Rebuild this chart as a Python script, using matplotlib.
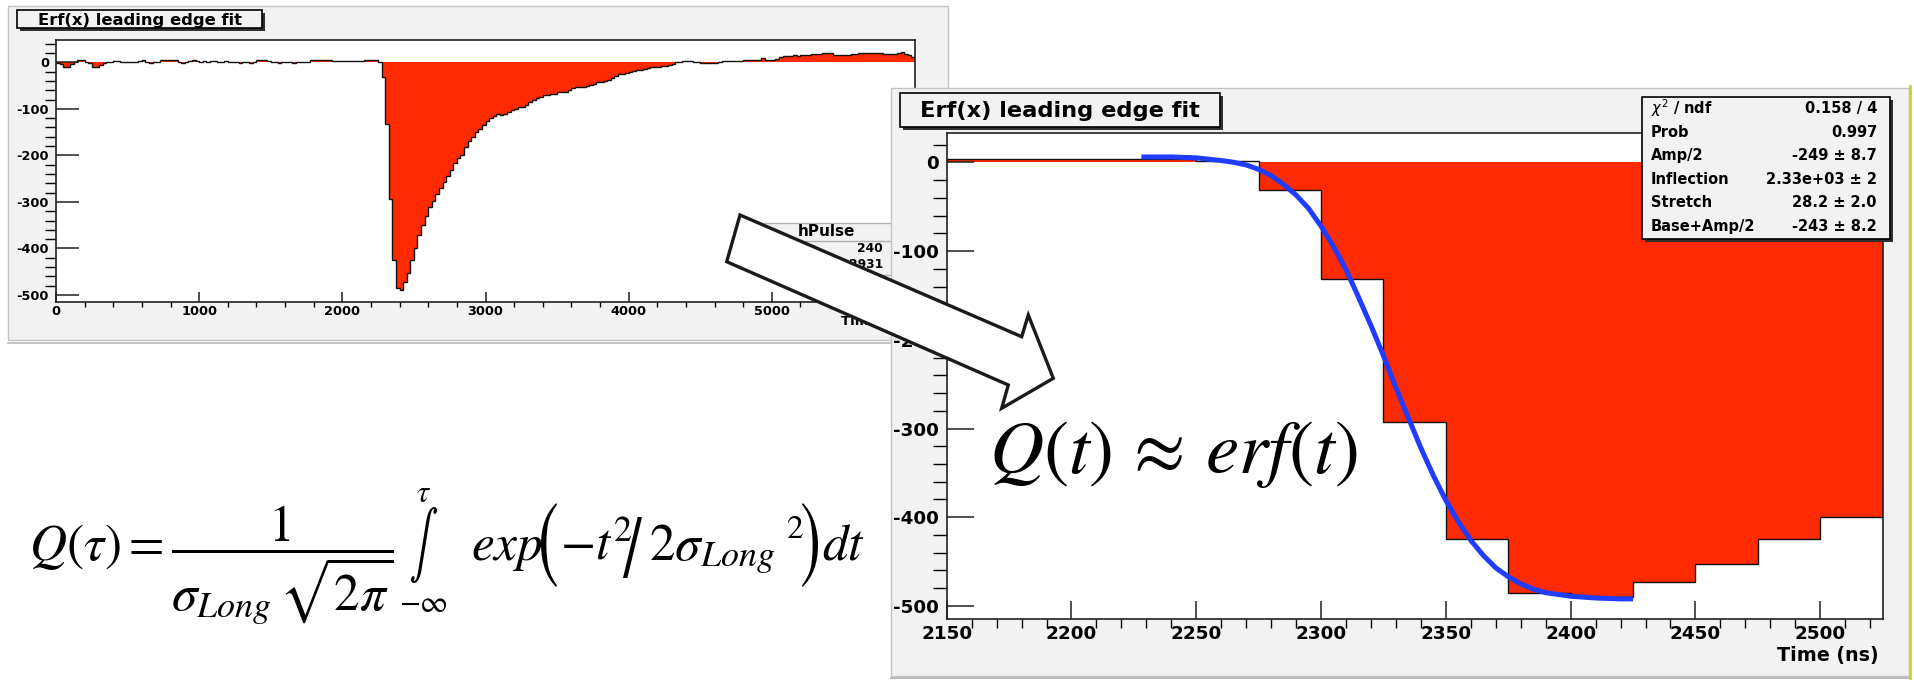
import numpy as np
import matplotlib
matplotlib.use("Agg")
import matplotlib.pyplot as plt
import matplotlib.transforms as mtransforms
from matplotlib.patches import Rectangle, Polygon, PathPatch
from matplotlib.textpath import TextPath
from matplotlib.font_manager import FontProperties
from matplotlib.ticker import MultipleLocator, StrMethodFormatter

plt.rcParams['axes.unicode_minus'] = False
plt.rcParams['font.family'] = 'DejaVu Sans'

W, H = 1914, 683

# --------------------
# hPulse: 240 bins of 25 ns from 0 to 6000 ns
# --------------------
pulse_edges = np.linspace(0, 6000, 241)
pulse_counts = [
    -1, -4, -10, -10, -4, 1, 4, 4, 1, -1,
    -10, -10, -5, -1, 1, 1, 3, 3, 0, 0,
    0, 0, 0, 3, 4, 1, -1, 0, 1, 4,
    5, 5, 4, 4, 1, -1, 1, 3, 4, 3,
    1, 2, 1, 3, 3, 0, 1, 2, 1, 1,
    0, -1, 0, 0, -1, 1, 4, 6, 6, 2,
    0, 0, -1, 0, 0, 0, -1, 0, 0, 0,
    1, 4, 4, 4, 4, 4, 4, 3, 3, 3,
    3, 3, 3, 3, 3, 3, 4, 4, 4, 4,
    1, -31, -132, -293, -425, -485, -490, -473, -453, -425,
    -400, -371, -350, -330, -310, -299, -282, -271, -258, -244,
    -231, -217, -206, -199, -181, -170, -161, -149, -144, -135,
    -125, -120, -115, -110, -113, -110, -106, -102, -100, -97,
    -95, -91, -85, -80, -76, -74, -71, -70, -69, -67,
    -64, -64, -63, -60, -55, -52, -52, -54, -50, -49,
    -47, -43, -42, -41, -37, -33, -29, -25, -24, -22,
    -20, -19, -17, -16, -14, -12, -11, -10, -9, -8,
    -7, -5, -4, 0, 1, 3, 3, 2, 1, 0,
    -1, -1, -1, -1, -1, 1, 2, 2, 2, 2,
    2, 2, 4, 4, 4, 4, 5, 9, 5, 6,
    6, 8, 12, 14, 14, 14, 15, 14, 16, 16,
    16, 17, 17, 17, 19, 19, 19, 16, 15, 15,
    16, 16, 17, 18, 19, 19, 19, 19, 19, 19,
    19, 17, 17, 17, 18, 21, 22, 18, 16, 12,
]

# leading edge fit curve
fit_time = [2228, 2240, 2250, 2260, 2265, 2270, 2275, 2280, 2285, 2290,
            2295, 2300, 2305, 2310, 2315, 2320, 2325, 2330, 2335, 2340,
            2345, 2350, 2355, 2360, 2365, 2370, 2375, 2380, 2385, 2390,
            2400, 2410, 2420, 2425]
fit_charge = [6, 6, 5, 2, 0, -3, -8, -15, -25, -37,
              -52, -72, -95, -121, -152, -184, -218, -254, -288, -322,
              -353, -381, -405, -426, -443, -457, -467, -475, -481, -485,
              -489, -491, -492, -492]

fit_names = [r'$\chi^{2}$ / ndf', 'Prob', 'Amp/2', 'Inflection', 'Stretch', 'Base+Amp/2']
fit_values = ['0.158 / 4', '0.997', '-249 ± 8.7', '2.33e+03 ± 2', '28.2 ± 2.0', '-243 ± 8.2']
pulse_names = ['Entries', 'Mean']
pulse_values = ['240', '2931']

RED = '#ff2a00'
BLUE = '#1f3cff'
GRAY = '#f2f2f2'

fig = plt.figure(figsize=(W / 100, H / 100), dpi=100)
fig.patch.set_facecolor('white')
# pixel coords, y going down
T = mtransforms.Affine2D().scale(1 / W, -1 / H).translate(0, 1) + fig.transFigure


def box(x0, y0, x1, y1, z, fc=GRAY, ec='none', lw=1.0):
    r = Rectangle((x0, y0), x1 - x0, y1 - y0, transform=T, fc=fc, ec=ec, lw=lw, zorder=z)
    fig.add_artist(r)
    return r


def hline(x0, x1, y, z, color='#b0b0b0', lw=1.0):
    fig.add_artist(plt.Line2D([x0, x1], [y, y], transform=T, color=color, lw=lw, zorder=z))


def txt(x, y, s, size, z, ha='left', va='center', weight='bold', **kw):
    return fig.text(x, y, s, transform=T, ha=ha, va=va, fontsize=size,
                    fontweight=weight, zorder=z, **kw)


def mtxt(x, y, s, size, ha='left', va='baseline'):
    # formula pieces in a Times-like math font
    return txt(x, y, s, size, 8, ha=ha, va=va, weight='normal', math_fontfamily='stix')


def glyph(s, x0, y0, x1, y1):
    # stretch one STIX glyph into a pixel box (big brackets, slash, integral)
    tp = TextPath((0, 0), s, size=100, prop=FontProperties(family='STIXGeneral'))
    ext = tp.get_extents()
    tr = (mtransforms.Affine2D().translate(-ext.x0, -ext.y1)
          .scale((x1 - x0) / ext.width, -(y1 - y0) / ext.height)
          .translate(x0, y0) + T)
    fig.add_artist(PathPatch(tp, transform=tr, fc='black', ec='none', zorder=8))


def px_axes(x0, y0, x1, y1, z):
    ax = fig.add_axes([x0 / W, 1 - y1 / H, (x1 - x0) / W, (y1 - y0) / H])
    ax.set_zorder(z)
    return ax


def title_box(x0, y0, x1, y1, s, size, z):
    box(x0 + 3, y0 + 3, x1 + 3, y1 + 3, z, fc='#303030')
    box(x0, y0, x1, y1, z, fc=GRAY, ec='black', lw=1.2)
    txt((x0 + x1) / 2, (y0 + y1) / 2 + 1, s, size, z, ha='center')


def root_axes(ax, xlim, ylim, xstep, ystep, xlen, ylen, size, xpad, ypad):
    ax.set_xlim(*xlim)
    ax.set_ylim(*ylim)
    ax.xaxis.set_major_locator(MultipleLocator(xstep[0]))
    ax.xaxis.set_minor_locator(MultipleLocator(xstep[1]))
    ax.yaxis.set_major_locator(MultipleLocator(ystep[0]))
    ax.yaxis.set_minor_locator(MultipleLocator(ystep[1]))
    ax.xaxis.set_major_formatter(StrMethodFormatter('{x:.0f}'))
    ax.yaxis.set_major_formatter(StrMethodFormatter('{x:.0f}'))
    ax.tick_params(direction='in', top=False, right=False, width=1.1, color='#202020',
                   labelsize=size)
    ax.tick_params(axis='x', which='major', length=xlen[0], pad=xpad)
    ax.tick_params(axis='x', which='minor', length=xlen[1], width=1.0)
    ax.tick_params(axis='y', which='major', length=ylen[0], pad=ypad)
    ax.tick_params(axis='y', which='minor', length=ylen[1], width=1.0)
    for sp in ax.spines.values():
        sp.set_linewidth(1.2)
        sp.set_color('#202020')
    for lab in ax.get_xticklabels() + ax.get_yticklabels():
        lab.set_fontweight('bold')


def draw_pulse(ax):
    ax.stairs(pulse_counts, pulse_edges, baseline=0, fill=True, color=RED, lw=0)
    ax.stairs(pulse_counts, pulse_edges, baseline=0, color='#111111', lw=1.0)


# --------------------
# Left canvas: full pulse
# --------------------
box(8, 6, 948, 340, 1, ec='#c4c4c4', lw=1.0)
hline(8, 948, 343, 1, color='#bbbbbb', lw=1.2)
title_box(17, 10, 262, 28, 'Erf(x) leading edge fit', 11.8, 1.5)
txt(912, 322, 'Time (ns)', 9.5, 1.5, ha='right')

axL = px_axes(56, 40, 915, 302, 2)
draw_pulse(axL)
root_axes(axL, (0, 6000), (-515, 48), (1000, 200), (100, 20),
          (7.2, 3.6), (16.5, 8.2), 9.3, 2, 5)

# hPulse stats box (mostly hidden)
box(762, 223, 900, 275, 3, fc=GRAY, ec='#b0b0b0', lw=1.0)
hline(762, 900, 241, 3)
txt(826, 232, 'hPulse', 11, 3, ha='center')
for i, (n, v) in enumerate(zip(pulse_names, pulse_values)):
    yy = 249 + 16 * i
    txt(768, yy, n, 8.8, 3)
    txt(883, yy, v, 8.8, 3, ha='right')

# --------------------
# Right canvas: zoom on the leading edge
# --------------------
box(891, 88, 1909, 676, 4, ec='#c4c4c4', lw=1.0)
hline(891, 1909, 678, 4, color='#bbbbbb', lw=1.5)
fig.add_artist(plt.Line2D([1910, 1910], [86, 678], transform=T, color='#d6cb2e', lw=2, zorder=4))
title_box(900, 93, 1220, 127, 'Erf(x) leading edge fit', 16.2, 4.5)
txt(1879, 656, 'Time (ns)', 13.8, 4.5, ha='right')

axR = px_axes(946.7, 133, 1882.6, 619.3, 5)
draw_pulse(axR)
axR.plot(fit_time, fit_charge, color=BLUE, lw=3.6, solid_capstyle='butt')
root_axes(axR, (2150, 2525), (-515, 33), (50, 10), (100, 20),
          (12.7, 6.7), (19.4, 10), 13.2, 4, 5.5)

# fit stats box
box(1645, 100, 1893, 242, 6, fc='#303030')
box(1642, 97, 1890, 239, 6, fc=GRAY, ec='black', lw=1.2)
for i, (n, v) in enumerate(zip(fit_names, fit_values)):
    yy = 108.5 + 23.6 * i
    txt(1651, yy, n, 10.5, 6, math_fontfamily='dejavusans')
    txt(1877, yy, v, 10.5, 6, ha='right')

# --------------------
# Arrow and formulas
# --------------------
arrow_pts = [(740, 215), (1021.7, 336.7), (1028.3, 315), (1053.3, 378.3),
             (1001.7, 408.3), (1008.3, 385), (726.7, 261.7)]
fig.add_artist(Polygon(arrow_pts, closed=True, transform=T, fc='white', ec='#1a1a1a',
                       lw=2.4, joinstyle='miter', zorder=7))

base = 560
mtxt(29, base, r'$Q(\tau) = \dfrac{1}{\sigma_{Long}\,\sqrt{2\pi}}$', 37)
glyph('∫', 411, 507, 437, 583)
mtxt(423, 493, r'$\tau$', 22, ha='center', va='center')
mtxt(423, 604, r'$-\infty$', 22, ha='center', va='center')
mtxt(471, base, r'$exp$', 37)
glyph('(', 541, 503, 557, 587)
mtxt(560, base, r'$-t^{2}$', 37)
glyph('/', 623, 517, 642, 578)
mtxt(649, base, r'$2\sigma_{Long}$', 37)
mtxt(786, 528, r'$2$', 24, va='center')
glyph(')', 802, 503, 818, 587)
mtxt(822, base, r'$dt$', 37)

mtxt(1173, 453, r'$Q(t)\,\approx\,erf(t)$', 54, ha='center', va='center')

fig.savefig('out.png', dpi=100, facecolor='white')
